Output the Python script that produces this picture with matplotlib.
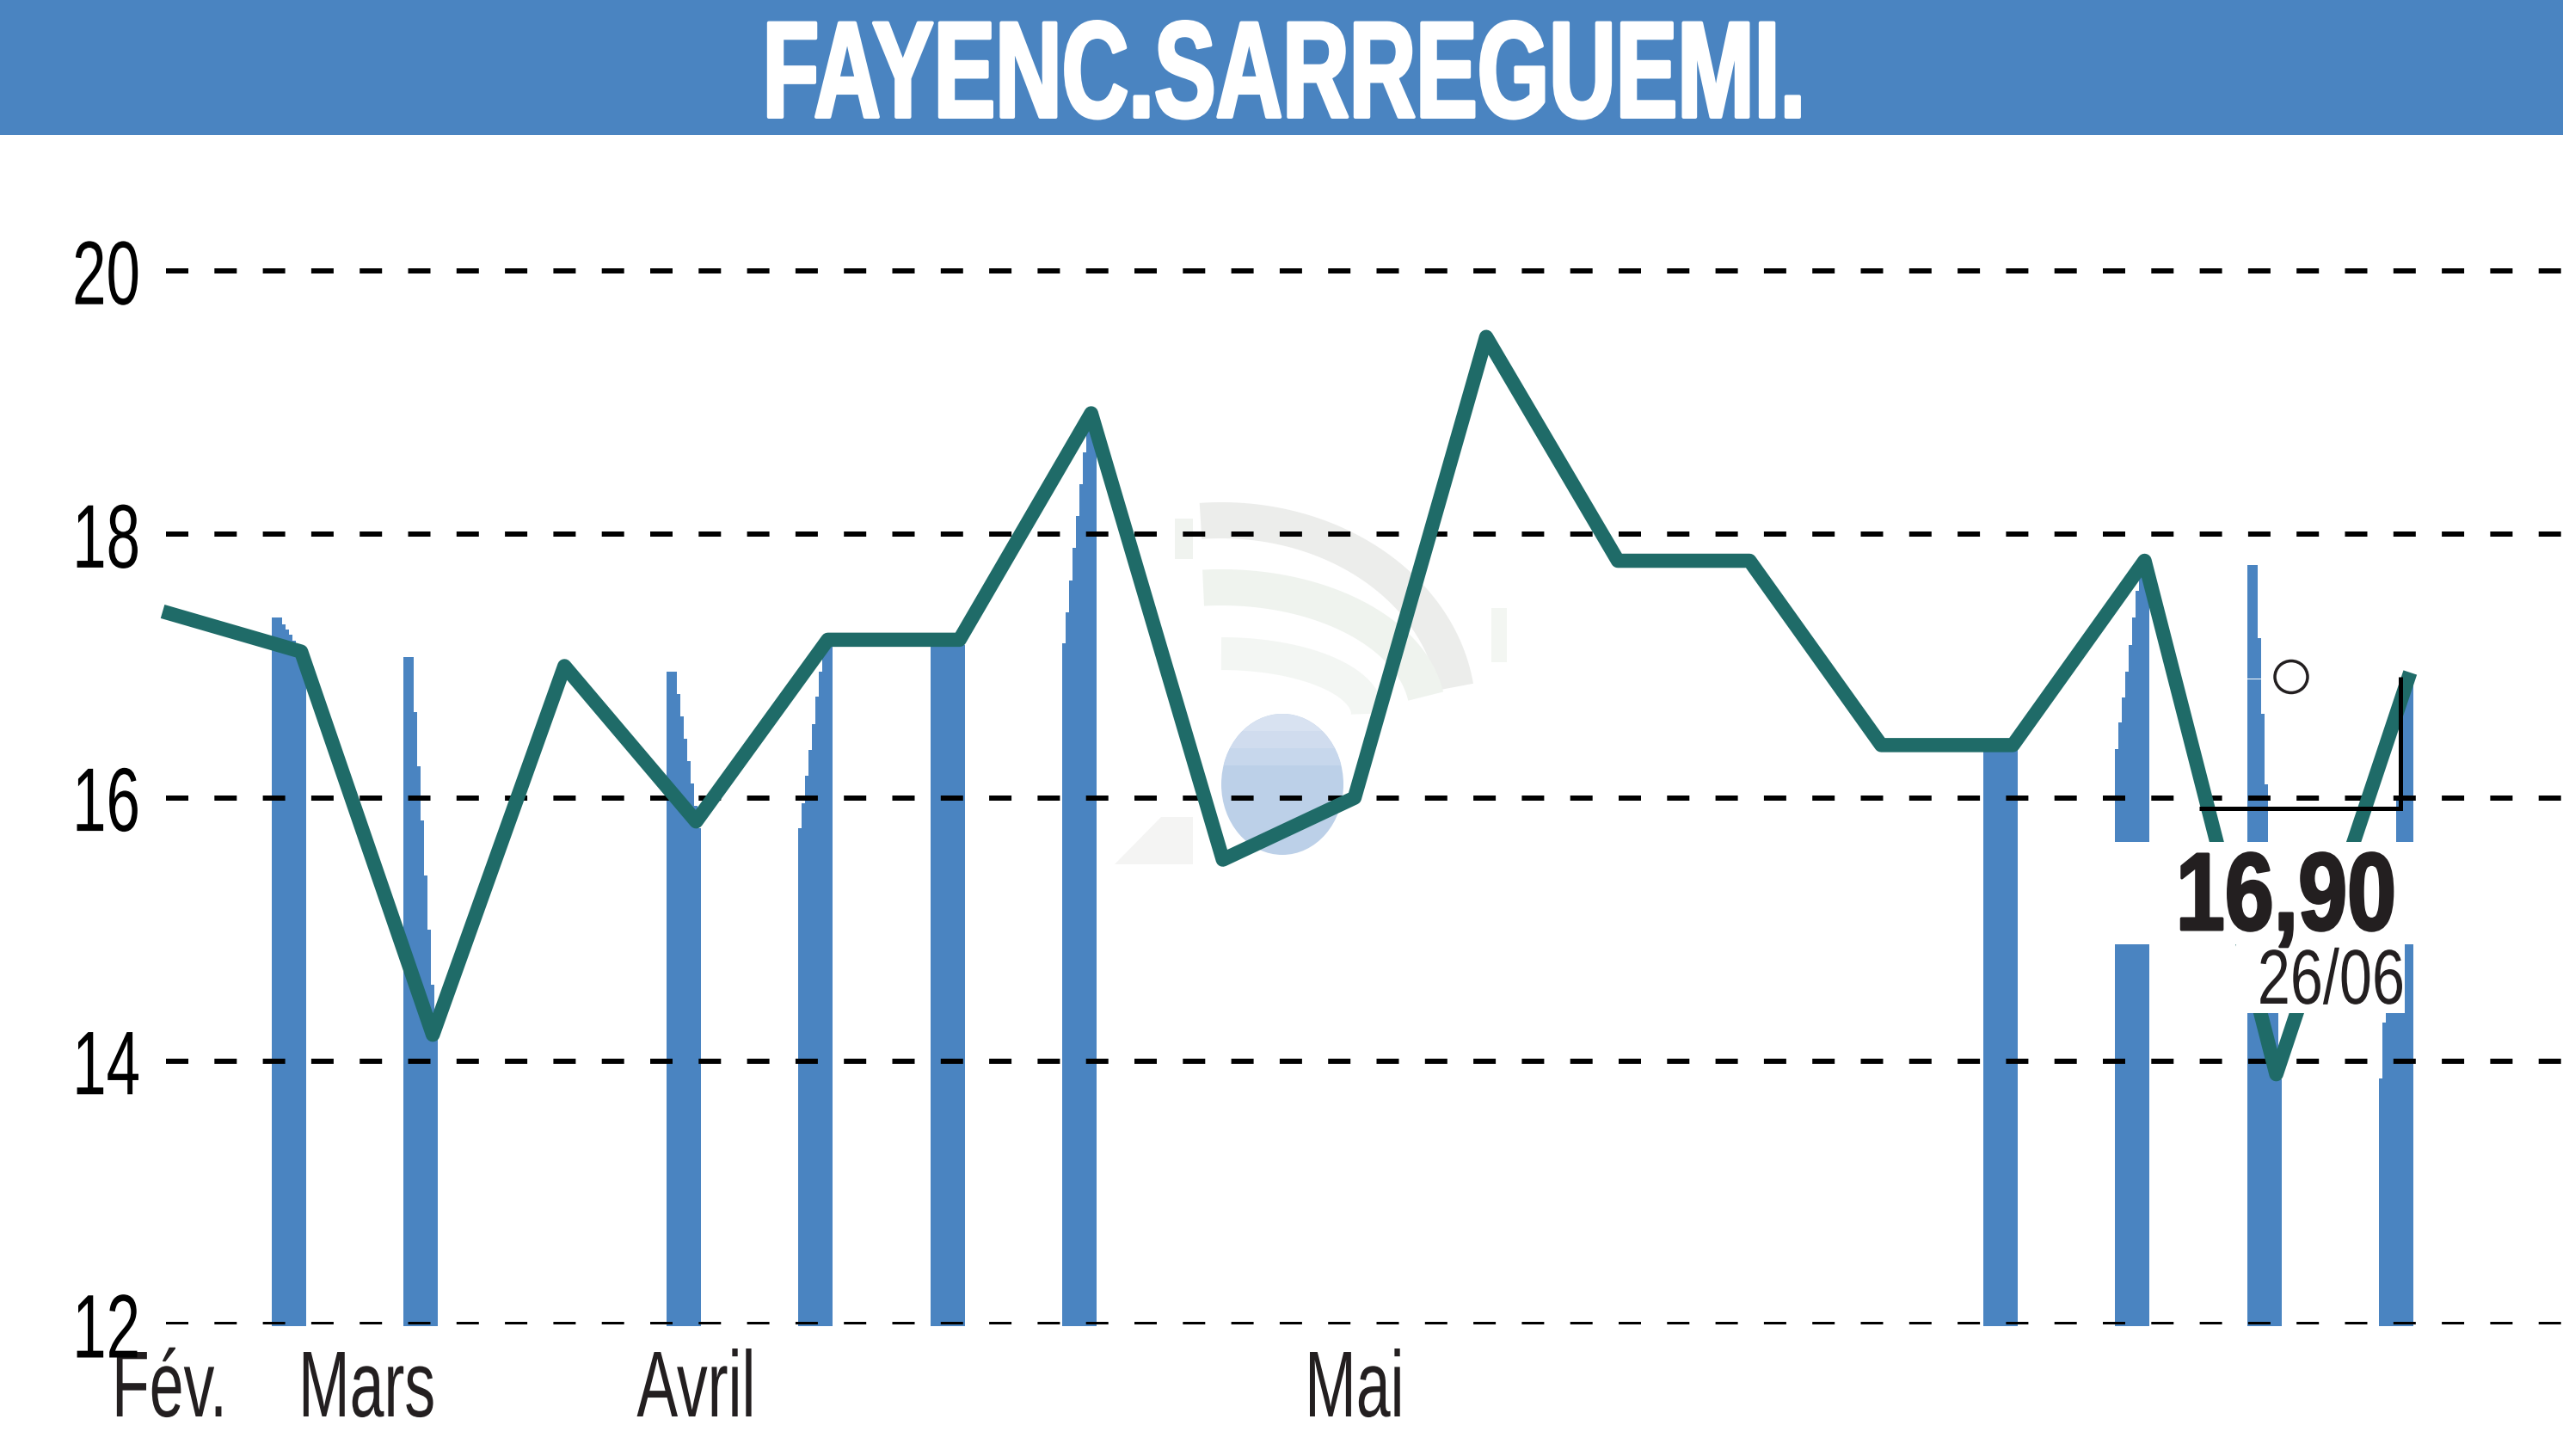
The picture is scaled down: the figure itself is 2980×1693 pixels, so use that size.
#!/usr/bin/python3
import numpy as np
import matplotlib
matplotlib.use("Agg")
import matplotlib.pyplot as plt
from matplotlib.patches import Rectangle, Ellipse, Polygon
from matplotlib.patheffects import AbstractPathEffect
from matplotlib.transforms import Affine2D

# Closing prices, one point per step
prices = [17.4, 17.11, 14.2, 17.0, 15.82, 17.2, 17.2, 18.92, 15.53, 16.0,
          19.5, 17.8, 17.8, 16.4, 16.4, 17.8, 13.9, 16.9]

# Blue stripes: the slot each one sits in, and the stepped top of its 10 columns
stripe_slots = [0, 1, 3, 4, 5, 6, 13, 14, 15, 16]
stripe_tops = [
    [17.37, 17.37, 17.37, 17.32, 17.28, 17.24, 17.19, 17.15, 17.09, 17.04],
    [17.07, 17.07, 17.07, 16.65, 16.24, 15.83, 15.41, 15.00, 14.58, 14.18],
    [16.96, 16.96, 16.96, 16.79, 16.62, 16.45, 16.28, 16.11, 15.94, 15.77],
    [15.77, 15.96, 16.17, 16.36, 16.56, 16.77, 16.96, 17.16, 17.16, 17.16],
    [17.16, 17.16, 17.16, 17.16, 17.16, 17.16, 17.16, 17.16, 17.16, 17.16],
    [17.17, 17.41, 17.65, 17.90, 18.14, 18.38, 18.62, 18.79, 18.83, 18.83],
    [16.38, 16.38, 16.38, 16.38, 16.38, 16.38, 16.38, 16.38, 16.38, 16.38],
    [16.37, 16.57, 16.76, 16.96, 17.16, 17.37, 17.57, 17.72, 17.75, 17.75],
    [17.77, 17.77, 17.77, 17.21, 16.64, 16.10, 15.54, 14.98, 14.42, 13.86],
    [13.87, 14.29, 14.72, 15.14, 15.57, 15.99, 16.42, 16.83, 16.90, 16.90],
]

y_ticks = [12, 14, 16, 18, 20]
month_pos = [0, 1.5, 4, 9]
month_labels = ["Fév.", "Mars", "Avril", "Mai"]

title = "FAYENC.SARREGUEMI."
last_value = "16,90"
last_date = "26/06"

W, H = 2980, 1693
BLUE = "#4a84c1"
GREEN = "#1f6b68"
INK = "#231f20"

plt.rcParams["font.family"] = ["Liberation Sans", "DejaVu Sans"]
plt.rcParams["lines.scale_dashes"] = False


def pt(pixels):
    return pixels * 72.0 / 100


# No condensed font here, so squeeze the glyphs sideways around an anchor x.
# stroke (px) thickens the stems back up for the heavy labels.
class Squeeze(AbstractPathEffect):
    def __init__(self, sx, x0, stroke=0):
        self.sx = sx
        self.x0 = x0
        self.stroke = stroke

    def draw_path(self, renderer, gc, tpath, affine, rgbFace=None):
        squeezed = affine + Affine2D().translate(-self.x0, 0).scale(self.sx, 1).translate(self.x0, 0)
        gc0 = renderer.new_gc()
        gc0.copy_properties(gc)
        if self.stroke:
            gc0.set_linewidth(pt(self.stroke))
            gc0.set_foreground(rgbFace)
        renderer.draw_path(gc0, tpath, squeezed, rgbFace)
        gc0.restore()


fig = plt.figure(figsize=(W / 100, H / 100), dpi=100, facecolor="white")

# Pixel scale of the chart: x step 153.1 px, one price unit 153.1 px
STEP = 153.1
X0, Y12 = 197, 1540
LEFT, TOP = 193, 157
ax = fig.add_axes([LEFT / W, (H - Y12) / H, (W - LEFT) / W, (Y12 - TOP) / H])
ax.set_xlim((LEFT - X0) / STEP, (W - X0) / STEP)
ax.set_ylim(12, 12 + (Y12 - TOP) / STEP)
for s in ax.spines.values():
    s.set_visible(False)

# top-left pixel coords, for the decoration that is not data
px = Affine2D().scale(1.0 / W, -1.0 / H).translate(0, 1) + fig.transFigure

# header band
ax.add_patch(Rectangle((0, 0), W, TOP, transform=px, fc=BLUE, ec="none", clip_on=False, zorder=1))
ax.text(1493, 136, title, transform=px, color="white", fontsize=pt(159), fontweight="bold",
        ha="center", va="baseline", zorder=7, path_effects=[Squeeze(0.675, 1493, stroke=4)])


# watermark
def arc(cx, cy, rx, ry, t0, t1, color, width):
    t = np.radians(np.linspace(t0, t1, 60))
    ax.plot(cx + rx * np.cos(t), cy - ry * np.sin(t), transform=px, color=color, lw=pt(width),
            solid_capstyle="butt", clip_on=False, zorder=0)


arc(1420, 830, 275, 225, 8, 95, "#ecedeb", 42)
arc(1420, 830, 240, 147, 8, 95, "#eff3ee", 42)
arc(1420, 830, 170, 70, 0, 90, "#f3f6f3", 38)
ax.add_patch(Rectangle((1366, 603), 21, 47, transform=px, fc="#f0f3ef", ec="none", zorder=0))
ax.add_patch(Rectangle((1734, 707), 18, 63, transform=px, fc="#f3f6f2", ec="none", zorder=0))
ax.add_patch(Polygon([(1296, 1005), (1387, 1005), (1387, 950), (1350, 950)], transform=px,
                     fc="#f4f4f3", ec="none", zorder=0))
ball = Ellipse((1491, 912), 142, 164, transform=px, fc="#bcd0e8", ec="none", zorder=0)
ax.add_patch(ball)
for top, height, color in [(820, 30, "#d8e2f1"), (850, 20, "#d0dcee"), (870, 20, "#c7d7ec")]:
    band = Rectangle((1400, top), 180, height, transform=px, fc=color, ec="none", zorder=0)
    ax.add_patch(band)
    band.set_clip_path(ball)

# stepped stripes, 10 columns of 4 px each
col_w = 4.0 / STEP
stripe_x0 = (316 - X0) / STEP
for slot, tops in zip(stripe_slots, stripe_tops):
    xs = [slot + stripe_x0 + k * col_w for k in range(len(tops))]
    ax.bar(xs, np.array(tops) - 11.985, width=col_w * 1.02, bottom=11.985, align="edge",
           color=BLUE, linewidth=0, clip_on=False, zorder=1)

# dashed grid
dash = (0, (pt(26), pt(30.3)))
ax.set_yticks(y_ticks)
ax.set_yticklabels([str(v) for v in y_ticks])
ax.yaxis.grid(True, color="black", linewidth=pt(6), linestyle=dash, zorder=2, dash_capstyle="butt")
ax.set_axisbelow(False)
for gl in ax.get_ygridlines():
    gl.set_zorder(2)
ax.tick_params(axis="y", length=0, pad=pt(30), labelsize=pt(105), labelcolor="black")
for lab in ax.get_yticklabels():
    lab.set_path_effects([Squeeze(0.675, LEFT - 30)])

ax.set_xticks(month_pos)
ax.set_xticklabels(month_labels)
ax.tick_params(axis="x", length=0, pad=pt(107), labelsize=pt(109), labelcolor=INK)
for lab, pos in zip(ax.get_xticklabels(), month_pos):
    lab.set_verticalalignment("baseline")
    lab.set_path_effects([Squeeze(0.657, X0 + STEP * pos)])

# price line
ax.plot(range(len(prices)), prices, color=GREEN, lw=pt(16.5), solid_joinstyle="round",
        solid_capstyle="projecting", clip_on=False, zorder=3)

# white boxes that hide what is behind the last value
ax.add_patch(Rectangle((2440, 979), 375, 119, transform=px, fc="white", ec="none", zorder=4))
ax.add_patch(Rectangle((2600, 1098), 196, 80, transform=px, fc="white", ec="none", zorder=4))

# last value marker
ax.plot([2557, 2791, 2791], [940, 940, 787], transform=px, color="black", lw=pt(5),
        solid_joinstyle="miter", solid_capstyle="butt", zorder=5)
ax.plot([2613, 2629], [789, 789], transform=px, color="white", lw=pt(1), zorder=5)
ax.add_patch(Ellipse((2664, 787), 38, 37, transform=px, fc="none", ec=INK, lw=pt(3.5), zorder=5))
ax.text(2786, 1081, last_value, transform=px, color=INK, fontsize=pt(128), fontweight="bold",
        ha="right", va="baseline", zorder=6, path_effects=[Squeeze(0.80, 2786, stroke=3)])
ax.text(2796, 1167, last_date, transform=px, color=INK, fontsize=pt(90),
        ha="right", va="baseline", zorder=6, path_effects=[Squeeze(0.76, 2796)])

fig.savefig("out.png", dpi=100, facecolor="white")
